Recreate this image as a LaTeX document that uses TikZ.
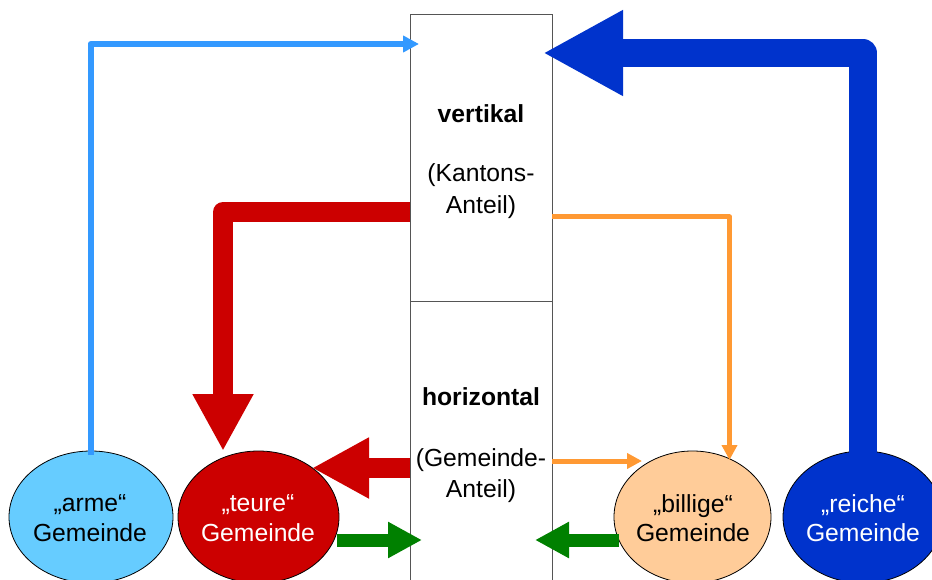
\documentclass[tikz,border=0pt]{standalone}
\usepackage{fontspec}
\setmainfont{Liberation Sans}
\usetikzlibrary{shapes.geometric,arrows.meta}
\definecolor{armefill}{HTML}{66CCFF}
\definecolor{armeline}{HTML}{3399FF}
\definecolor{redc}{HTML}{CC0000}
\definecolor{peach}{HTML}{FFCC99}
\definecolor{bluec}{HTML}{0033CC}
\definecolor{orangec}{HTML}{FF9933}
\definecolor{greenc}{HTML}{008000}
\definecolor{boxgray}{HTML}{555555}
\tikzset{
  gem/.style={ellipse,draw=black,line width=0.8pt,inner sep=0pt,minimum height=132pt},
  lbl/.style={align=center,inner sep=0pt,font=\fontsize{24.7}{29.5}\selectfont},
  lbarrow/.style={draw=armeline,line width=6pt,line join=round,-{Triangle[length=16pt,width=16pt]}},
  bigblue/.style={draw=bluec,line width=28pt,line join=round,-{Triangle[length=80pt,width=80pt]}},
  bigred/.style={draw=redc,line width=20pt,line join=round,-{Triangle[length=57pt,width=57pt]}},
  orarrow/.style={draw=orangec,line width=5pt,line join=round,-{Triangle[length=15pt,width=15pt]}},
  grarrow/.style={draw=greenc,line width=13pt,-{Triangle[length=34pt,width=34pt]}}
}
\begin{document}
\begin{tikzpicture}[x=1pt,y=-1pt]
\useasboundingbox (0,0) rectangle (932,580);
\clip (0,0) rectangle (932,580);
\fill[white] (0,0) rectangle (932,580);

% ellipses
\node[gem,fill=armefill,minimum width=164pt] (arme) at (91,517) {};
\node[gem,fill=redc,minimum width=161pt] (teure) at (258.5,517) {};
\node[gem,fill=peach,minimum width=157pt] (billige) at (692.5,517) {};
\node[gem,fill=bluec,minimum width=160pt] (reiche) at (863,517) {};

\node[lbl] (armeT) at (90,518) {„arme“\\Gemeinde};
\node[lbl,text=white] (teureT) at (258,518) {„teure“\\Gemeinde};
\node[lbl] (billigeT) at (693,518) {„billige“\\Gemeinde};
\node[lbl,text=white] (reicheT) at (863,518) {„reiche“\\Gemeinde};

% central box
\node[draw=boxgray,line width=1pt,minimum width=142pt,minimum height=570pt,inner sep=0pt] (box) at (481,300) {};
\coordinate (dl) at (410,301);
\coordinate (dr) at (552,301);
\draw[draw=boxgray,line width=1pt] (dl) -- (dr);

\node[lbl] (vert) at (481,114) {\bfseries vertikal};
\node[lbl] (kant) at (481,175) {(Kantons-};
\node[lbl] (kantB) at (481,207) {Anteil)};
\node[lbl] (hori) at (481,397) {\bfseries horizontal};
\node[lbl] (gemA) at (481,460) {(Gemeinde-};
\node[lbl] (gemB) at (481,491) {Anteil)};

% connector coordinates
\coordinate (lbs) at (90.5,455);
\coordinate (lbt) at (419,44);
\coordinate (bs) at (863,456);
\coordinate (bt) at (543,53);
\coordinate (r1s) at (410,212);
\coordinate (r1t) at (223,451);
\coordinate (r2s) at (410,468);
\coordinate (r2t) at (312,468);
\coordinate (o1s) at (552,217);
\coordinate (o1t) at (729.5,460);
\coordinate (o2s) at (552,461);
\coordinate (o2t) at (642,461);
\coordinate (g1s) at (337,540);
\coordinate (g1t) at (422,540);
\coordinate (g2s) at (619,540);
\coordinate (g2t) at (535,540);

% connectors
\draw[lbarrow] (lbs) |- (lbt);
\draw[bigblue] (bs) |- (bt);
\draw[bigred] (r1s) -| (r1t);
\draw[bigred] (r2s) -- (r2t);
\draw[orarrow] (o1s) -| (o1t);
\draw[orarrow] (o2s) -- (o2t);
\draw[grarrow] (g1s) -- (g1t);
\draw[grarrow] (g2s) -- (g2t);
\end{tikzpicture}
\end{document}
